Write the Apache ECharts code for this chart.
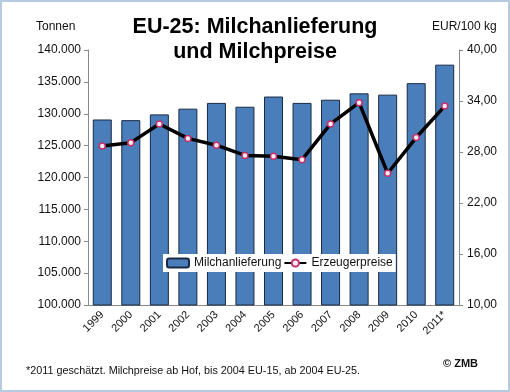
<!DOCTYPE html>
<html><head><meta charset="utf-8">
<script src="https://cdn.jsdelivr.net/npm/echarts@6/dist/echarts.min.js"></script>
<style>html,body{margin:0;padding:0;background:#fff}#c{width:510px;height:392px;box-sizing:border-box;border:2px solid #b7cbe0}</style>
</head><body><div id="c"></div>
<script>
const years = ['1999','2000','2001','2002','2003','2004','2005','2006','2007','2008','2009','2010','2011*'];
const milchanlieferung = [129100,129000,129900,130800,131700,131100,132700,131700,132200,133200,133000,134800,137700];
const erzeugerpreise = [28.7,29.1,31.3,29.6,28.8,27.6,27.5,27.1,31.3,33.8,25.5,29.7,33.4];
const leftTicks = [100000,140000,5000];
const rightTicks = [10,40,6];

const chart = echarts.init(document.getElementById('c'));
const fmt0 = v => String(v).replace(/\B(?=(\d{3})+(?!\d))/g,'.');
const ff = 'Liberation Sans, Arial, sans-serif';
chart.setOption({
  animation:false,
  textStyle:{fontFamily:ff},
  title:{text:'EU-25: Milchanlieferung\nund Milchpreise',left:'center',top:8,
    textStyle:{fontSize:21.5,fontWeight:'bold',color:'#000',lineHeight:25}},
  graphic:[
    {type:'text',left:34,top:19,style:{text:'Tonnen',fontSize:12,fill:'#111',fontFamily:ff}},
    {type:'text',left:430,top:19,style:{text:'EUR/100 kg',fontSize:12,fill:'#111',fontFamily:ff}},
    {type:'text',left:24,top:364,style:{text:'*2011 geschätzt. Milchpreise ab Hof, bis 2004 EU-15, ab 2004 EU-25.',fontSize:10.8,fill:'#111',fontFamily:ff}},
    {type:'text',left:441,top:356,style:{text:'© ZMB',fontSize:11,fontWeight:'bold',fill:'#111',fontFamily:ff}}
  ],
  legend:{data:[{name:'Milchanlieferung'},{name:'Erzeugerpreise'}],left:161,top:252,
    backgroundColor:'#fff',padding:[3,3],itemGap:2,itemWidth:22,itemHeight:9,
    textStyle:{fontSize:12,color:'#111'}},
  grid:{left:86,right:49,top:48,bottom:85},
  xAxis:{type:'category',data:years,
    axisLine:{lineStyle:{color:'#888'}},axisTick:{show:false},
    axisLabel:{rotate:45,fontSize:11,color:'#111',margin:8,interval:0}},
  yAxis:[
    {type:'value',min:leftTicks[0],max:leftTicks[1],interval:leftTicks[2],
     axisLine:{show:true,lineStyle:{color:'#888'}},axisTick:{show:true,length:4},splitLine:{show:false},
     axisLabel:{fontSize:12,color:'#111',margin:7,formatter:fmt0}},
    {type:'value',min:rightTicks[0],max:rightTicks[1],interval:rightTicks[2],position:'right',
     axisLine:{show:true,lineStyle:{color:'#888'}},axisTick:{show:true,length:4},splitLine:{show:false},
     axisLabel:{fontSize:12,color:'#111',margin:8,formatter:v=>v.toFixed(2).replace('.',',')}}
  ],
  series:[
    {name:'Milchanlieferung',type:'bar',data:milchanlieferung,barWidth:19,
     itemStyle:{color:'#4a7ebb',borderColor:'#1a2a45',borderWidth:1}},
    {name:'Erzeugerpreise',type:'line',yAxisIndex:1,data:erzeugerpreise,
     symbol:'circle',symbolSize:6,
     lineStyle:{color:'#000',width:3.5},
     itemStyle:{color:'#fbeaf2',borderColor:'#c0306a',borderWidth:1.5}}
  ]
});
</script></body></html>
